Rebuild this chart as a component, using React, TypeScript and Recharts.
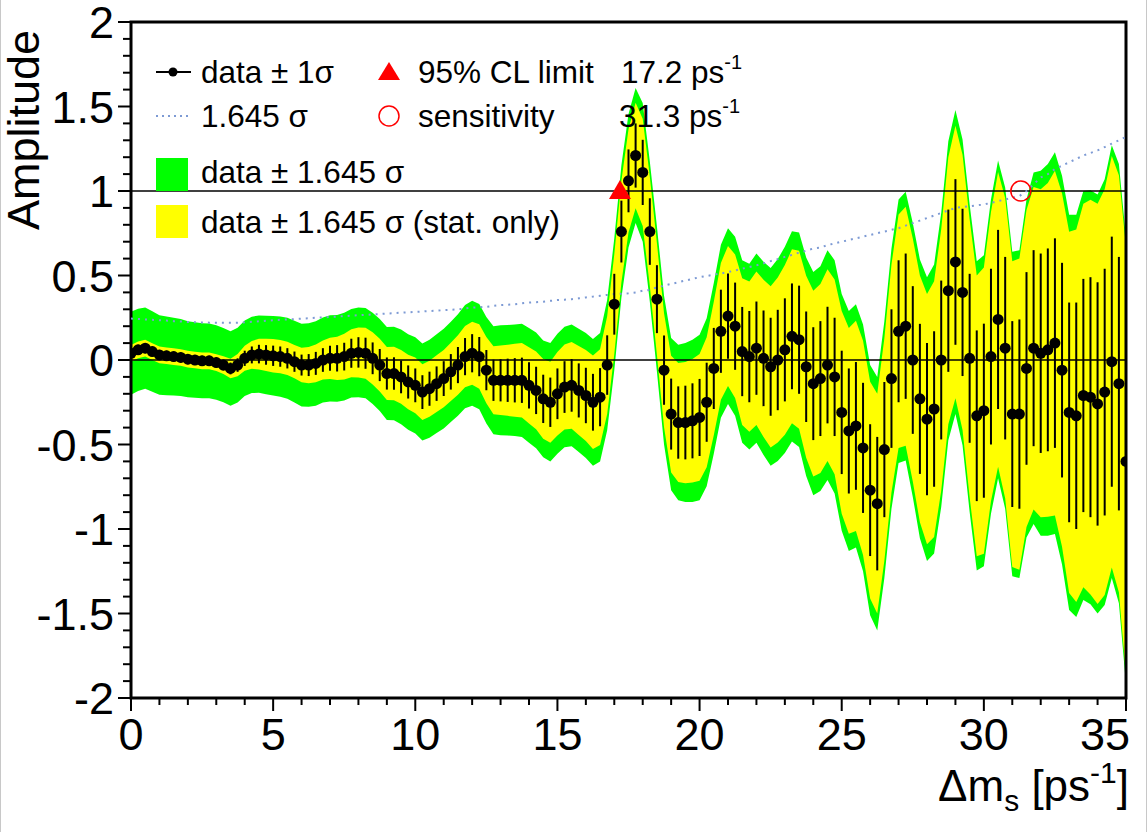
import React from "react"
import {
  ComposedChart,
  Area,
  Line,
  XAxis,
  YAxis,
  ErrorBar,
  ReferenceLine,
  ReferenceDot,
  ReferenceArea,
} from "recharts"

const FONT = "'Liberation Sans', Arial, Helvetica, sans-serif"

// scan step in Δm_s [ps^-1]
const STEP = 0.25

// measured amplitude at Δm_s = 0, 0.25, ... 35
const AMP = [
  0.04, 0.06, 0.07, 0.05, 0.03, 0.025, 0.02, 0.015, 0.005, 0.0, -0.005, -0.005,
  -0.015, -0.03, -0.05, -0.03, 0.01, 0.03, 0.035, 0.03, 0.025, 0.02, 0.01, -0.01,
  -0.03, -0.03, -0.02, 0.0, 0.01, 0.01, 0.02, 0.04, 0.045, 0.04, 0.01, -0.03,
  -0.08, -0.08, -0.1, -0.13, -0.15, -0.19, -0.17, -0.14, -0.11, -0.07, -0.03, 0.02,
  0.04, 0.02, -0.06, -0.12, -0.12, -0.12, -0.12, -0.12, -0.15, -0.18, -0.23, -0.25,
  -0.2, -0.16, -0.15, -0.18, -0.21, -0.25, -0.22, -0.03,
  0.33, 0.76, 1.06, 1.21, 1.11, 0.76, 0.36, -0.06, -0.32, -0.37, -0.37, -0.36,
  -0.34, -0.25, -0.05, 0.17, 0.26, 0.2, 0.05, 0.02, 0.07, 0.01, -0.04, 0.0,
  0.06, 0.14, 0.12, -0.04, -0.14, -0.11, -0.03, -0.1,
  -0.31, -0.42, -0.39, -0.52, -0.77, -0.85, -0.53, -0.11, 0.17, 0.2, 0.0, -0.23,
  -0.35, -0.29, 0.0, 0.41, 0.58, 0.4, 0.01, -0.33, -0.3, 0.02, 0.24, 0.07,
  -0.32, -0.32, -0.05, 0.07, 0.04, 0.06, 0.1, -0.06,
  -0.31, -0.33, -0.21, -0.22, -0.26, -0.19, -0.01, -0.14, -0.6,
]

// 1 sigma statistical error
const STAT = [
  0.03, 0.03, 0.03, 0.03, 0.03, 0.03, 0.03, 0.03, 0.03,
  0.03, 0.03, 0.03, 0.03, 0.032, 0.035, 0.04,
  0.045, 0.05, 0.055, 0.058, 0.06, 0.06, 0.06, 0.06, 0.062, 0.065, 0.068,
  0.07, 0.074, 0.078, 0.082, 0.086, 0.09, 0.092, 0.094, 0.095,
  0.095, 0.096, 0.097, 0.098, 0.1, 0.1, 0.101, 0.102, 0.103, 0.105, 0.107, 0.11,
  0.113, 0.116, 0.119, 0.122, 0.125, 0.128, 0.131, 0.134, 0.137, 0.14, 0.143, 0.146,
  0.15, 0.153, 0.156, 0.16, 0.164, 0.168, 0.172, 0.176,
  0.18, 0.183, 0.186, 0.19, 0.193, 0.197, 0.201, 0.205, 0.21, 0.214, 0.218, 0.222,
  0.228, 0.234, 0.24, 0.246, 0.252, 0.258, 0.264, 0.27, 0.276, 0.283, 0.29, 0.297,
  0.305, 0.313, 0.32, 0.327, 0.334, 0.34, 0.345, 0.35,
  0.365, 0.37, 0.378, 0.385, 0.39, 0.395, 0.4, 0.41, 0.42, 0.43, 0.437, 0.444,
  0.45, 0.46, 0.47, 0.48, 0.49, 0.495, 0.5, 0.505, 0.515, 0.52, 0.53, 0.54,
  0.55, 0.56, 0.57, 0.58, 0.59, 0.6, 0.62, 0.635,
  0.65, 0.67, 0.69, 0.71, 0.72, 0.73, 0.74, 0.75, 0.77,
]

// 1.645 sigma total (sensitivity curve)
const SENS = [
  0.245, 0.243, 0.24, 0.238, 0.235, 0.233, 0.23, 0.228, 0.225, 0.223, 0.222, 0.221,
  0.22, 0.22, 0.22, 0.221, 0.223, 0.226, 0.229, 0.232, 0.235, 0.238, 0.24, 0.242,
  0.245, 0.247, 0.25, 0.252, 0.255, 0.257, 0.26, 0.262, 0.265, 0.267, 0.27, 0.272,
  0.275, 0.277, 0.28, 0.282, 0.285, 0.287, 0.29, 0.292, 0.295, 0.297, 0.3, 0.305,
  0.31, 0.312, 0.315, 0.32, 0.325, 0.327, 0.33, 0.335, 0.34, 0.342, 0.345, 0.35,
  0.355, 0.357, 0.36, 0.365, 0.37, 0.375, 0.38, 0.385,
  0.39, 0.392, 0.395, 0.4, 0.41, 0.415, 0.43, 0.44, 0.45, 0.46, 0.47, 0.48,
  0.49, 0.497, 0.505, 0.512, 0.52, 0.53, 0.54, 0.55, 0.56, 0.572, 0.585, 0.597,
  0.61, 0.622, 0.635, 0.647, 0.66, 0.665, 0.68, 0.69,
  0.7, 0.71, 0.72, 0.73, 0.74, 0.75, 0.76, 0.77, 0.78, 0.795, 0.81, 0.825,
  0.84, 0.855, 0.87, 0.885, 0.9, 0.905, 0.91, 0.915, 0.92, 0.93, 0.94, 0.95,
  0.96, 0.97, 1.0, 1.04, 1.08, 1.1, 1.13, 1.15,
  1.17, 1.19, 1.21, 1.225, 1.24, 1.26, 1.28, 1.3, 1.32,
]

const LIMIT = 17.2
const SENSITIVITY = 31.3

const X_TICKS = Array.from({ length: 36 }, (_, i) => i)
const X_LABELS = [0, 5, 10, 15, 20, 25, 30, 35]
const Y_TICKS = Array.from({ length: 41 }, (_, i) => Math.round((-2 + i * 0.1) * 10) / 10)
const Y_LABELS = [-2, -1.5, -1, -0.5, 0, 0.5, 1, 1.5, 2]

const rows = AMP.map((a, i) => ({
  x: i * STEP,
  amp: a,
  stat: STAT[i],
  sens: SENS[i],
  green: [a - SENS[i], a + SENS[i]],
  yellow: [a - 1.645 * STAT[i], a + 1.645 * STAT[i]],
}))

const W = 1147
const H = 832

function XTick({ x, y, payload }: any) {
  const v = payload.value
  const major = X_LABELS.includes(v)
  // last label is pulled inside the canvas, as in the original
  const last = v === 35
  return (
    <g>
      <line x1={x} x2={x} y1={y} y2={y + (major ? 13 : 7)} stroke="#000" strokeWidth={2} />
      {major && (
        <text
          x={last ? x + 4 : x}
          y={y + 52}
          textAnchor={last ? "end" : "middle"}
          fontSize={45}
          fontFamily={FONT}
          fill="#000"
        >
          {v}
        </text>
      )}
    </g>
  )
}

function YTick({ x, y, payload }: any) {
  const v = payload.value
  const major = Y_LABELS.includes(v)
  return (
    <g>
      <line x1={x - (major ? 13 : 8)} x2={x} y1={y} y2={y} stroke="#000" strokeWidth={2} />
      {major && (
        <text x={x - 17} y={y} dy="0.36em" textAnchor="end" fontSize={45} fontFamily={FONT} fill="#000">
          {v}
        </text>
      )}
    </g>
  )
}

const Triangle = ({ cx, cy }: any) => (
  <polygon points={`${cx},${cy - 11} ${cx - 11},${cy + 8} ${cx + 11},${cy + 8}`} fill="#ff0000" />
)

function Legend() {
  const t = { fontSize: 31.5, fontFamily: FONT, fill: "#000" }
  return (
    <svg width={W} height={H} style={{ position: "absolute", left: 0, top: 0, pointerEvents: "none" }}>
      <line x1={155} x2={190} y1={72} y2={72} stroke="#000" strokeWidth={2} />
      <circle cx={172} cy={72} r={4.5} fill="#000" />
      <text x={200} y={83} {...t}>data ± 1σ</text>

      <line x1={155} x2={190} y1={116} y2={116} stroke="#7d9ad4" strokeWidth={2} strokeDasharray="2 4" />
      <text x={200} y={127} {...t}>1.645 σ</text>

      <rect x={155} y={158} width={32} height={33} fill="#00ff00" />
      <text x={200} y={183} {...t}>data ± 1.645 σ</text>

      <rect x={155} y={205} width={32} height={33} fill="#ffff00" />
      <text x={200} y={233} {...t}>data ± 1.645 σ (stat. only)</text>

      <polygon points="388,62 377,80 399,80" fill="#ff0000" />
      <text x={417} y={83} {...t}>95% CL limit</text>

      <circle cx={388} cy={116} r={10} fill="none" stroke="#ff0000" strokeWidth={1.5} />
      <text x={417} y={127} {...t}>sensitivity</text>

      <text x={620} y={83} {...t}>
        17.2 ps<tspan dy={-14} fontSize={20}>-1</tspan>
      </text>
      <text x={618} y={127} {...t}>
        31.3 ps<tspan dy={-14} fontSize={20}>-1</tspan>
      </text>

      <text transform="translate(38,30) rotate(-90)" textAnchor="end" fontSize={45} fontFamily={FONT} fill="#000">
        Amplitude
      </text>

      <text x={1128} y={801} textAnchor="end" fontSize={44} fontFamily={FONT} fill="#000">
        Δm<tspan dy={10} fontSize={30}>s</tspan>
        <tspan dy={-10}> [ps</tspan>
        <tspan dy={-18} fontSize={30}>-1</tspan>
        <tspan dy={18}>]</tspan>
      </text>
    </svg>
  )
}

export default function App() {
  return (
    <div
      style={{
        position: "absolute",
        left: 0,
        top: 0,
        width: W,
        height: H,
        background: "#fff",
        boxSizing: "border-box",
        borderLeft: "1px solid #c8c8c8",
        borderRight: "1px solid #c8c8c8",
      }}
    >
      <ComposedChart width={W} height={H} data={rows} margin={{ top: 22, right: 22, left: 0, bottom: 0 }}>
        <XAxis
          type="number"
          dataKey="x"
          domain={[0, 35]}
          ticks={X_TICKS}
          interval={0}
          allowDataOverflow
          axisLine={false}
          tickLine={false}
          tickSize={0}
          tickMargin={0}
          height={134}
          tick={(p: any) => <XTick {...p} />}
        />
        <YAxis
          type="number"
          domain={[-2, 2]}
          ticks={Y_TICKS}
          interval={0}
          allowDataOverflow
          axisLine={false}
          tickLine={false}
          tickSize={0}
          tickMargin={0}
          width={130}
          tick={(p: any) => <YTick {...p} />}
        />
        <Area dataKey="green" type="linear" fill="#00ff00" fillOpacity={1} stroke="none" isAnimationActive={false} />
        <Area dataKey="yellow" type="linear" fill="#ffff00" fillOpacity={1} stroke="none" isAnimationActive={false} />
        <ReferenceLine y={0} stroke="#000" strokeWidth={1.5} />
        <ReferenceLine y={1} stroke="#000" strokeWidth={1.5} />
        <Line
          dataKey="sens"
          type="linear"
          stroke="#7d9ad4"
          strokeWidth={2}
          strokeDasharray="2 5"
          dot={false}
          activeDot={false}
          isAnimationActive={false}
        />
        <Line
          dataKey="amp"
          type="linear"
          stroke="none"
          dot={{ r: 5.5, fill: "#000", stroke: "none" }}
          activeDot={false}
          isAnimationActive={false}
        >
          <ErrorBar dataKey="stat" direction="y" width={0} stroke="#000" strokeWidth={2} />
        </Line>
        <ReferenceDot x={LIMIT} y={1} shape={Triangle} />
        <ReferenceDot x={SENSITIVITY} y={1} r={10} fill="none" stroke="#ff0000" strokeWidth={1.5} />
        <ReferenceArea x1={0} x2={35} y1={-2} y2={2} fill="none" stroke="#000" strokeWidth={3} />
      </ComposedChart>
      <Legend />
    </div>
  )
}
